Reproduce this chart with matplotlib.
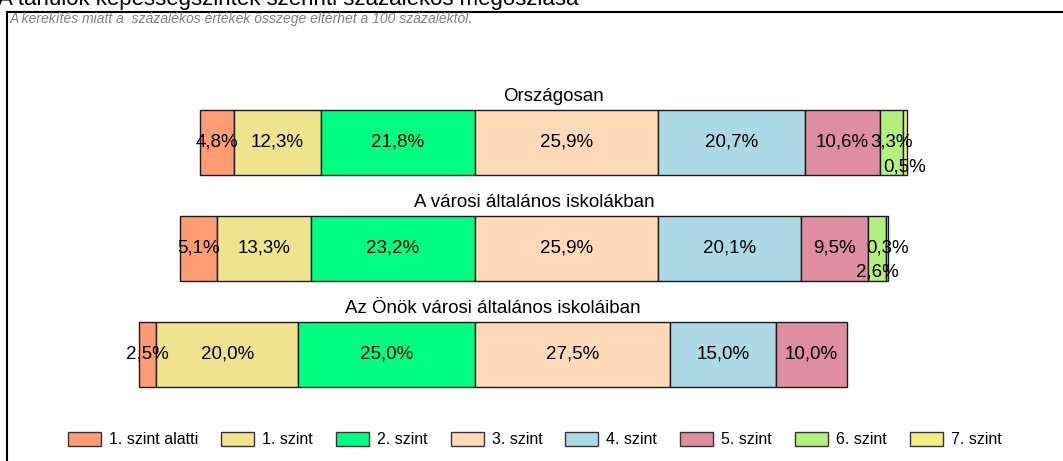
import matplotlib.pyplot as plt
from matplotlib.patches import Rectangle
from matplotlib.lines import Line2D

W, H = 1063, 461

groups = ['Országosan', 'A városi általános iskolákban', 'Az Önök városi általános iskoláiban']
levels = ['1. szint alatti', '1. szint', '2. szint', '3. szint',
          '4. szint', '5. szint', '6. szint', '7. szint']
orszagos = [4.8, 12.3, 21.8, 25.9, 20.7, 10.6, 3.3, 0.5]
varosi = [5.1, 13.3, 23.2, 25.9, 20.1, 9.5, 2.6, 0.3]
onok = [2.5, 20.0, 25.0, 27.5, 15.0, 10.0, 0.0, 0.0]
colors = ['#FF9C74', '#EFE48D', '#00FF80', '#FFD9B8',
          '#ADD8E6', '#DE8EA0', '#B4F07E', '#F0F080']

rows = [orszagos, varosi, onok]

# layout (pixels)
PX_PER_PCT = 7.08
ZERO_X = 475           # the 2./3. szint boundary lines up here
ROW_Y = [142, 248, 354]
BAR_H = 65
# labels that are nudged down so they don't collide
nudge = {(0, 7): 25, (1, 6): 24}

plt.rcParams['font.family'] = ['Liberation Sans', 'DejaVu Sans']

fig = plt.figure(figsize=(W / 100, H / 100), dpi=100)
ax = fig.add_axes([0, 0, 1, 1])
ax.set_xlim(-ZERO_X / PX_PER_PCT, (W - ZERO_X) / PX_PER_PCT)
ax.set_ylim(H, 0)
ax.axis('off')


def fx(px):
    return px / W


def fy(py):
    return 1 - py / H


for r, (name, vals) in enumerate(zip(groups, rows)):
    left = -sum(vals[:3])
    y = ROW_Y[r]
    for i, v in enumerate(vals):
        if v <= 0:
            continue
        ax.barh(y, v, left=left, height=BAR_H, color=colors[i],
                edgecolor='#1a1a1a', linewidth=1)
        ax.text(left + v / 2, y + nudge.get((r, i), 0), f'{v:.1f}%'.replace('.', ','),
                ha='center', va='center', fontsize=13.5)
        left += v
    start = -sum(vals[:3])
    mid = start + sum(vals) / 2
    ax.text(mid, y - BAR_H / 2 - 5, name, ha='center', va='bottom', fontsize=13.5)

# frame and note
fig.add_artist(Line2D([fx(7), fx(7)], [fy(12), fy(H + 5)], color='black', lw=1.5))
fig.add_artist(Line2D([fx(7), fx(W + 5)], [fy(12), fy(12)], color='black', lw=1.5))
# chart title, cut by the top edge as in the source picture
fig.text(fx(-2), fy(4.5), 'A tanulók képességszintek szerinti százalékos megoszlása',
         fontsize=16, va='baseline', ha='left')
fig.text(fx(10), fy(19), 'A kerekítés miatt a  százalékos értékek összege eltérhet a 100 százaléktól.',
         fontsize=10, style='italic', color='#7F7F7F', va='center', ha='left',
         family=['Liberation Sans Narrow', 'Liberation Sans'])

# legend: swatch, label, then a fixed gap before the next entry
renderer = fig.canvas.get_renderer()
x0 = 68
for lab, c in zip(levels, colors):
    fig.add_artist(Rectangle((fx(x0), fy(446)), fx(33), 14 / H,
                             facecolor=c, edgecolor='#333333', lw=1))
    t = fig.text(fx(x0 + 41), fy(439), lab, fontsize=11.5, va='center', ha='left')
    x0 = t.get_window_extent(renderer).x1 + 23

fig.savefig('out.png', dpi=100)
